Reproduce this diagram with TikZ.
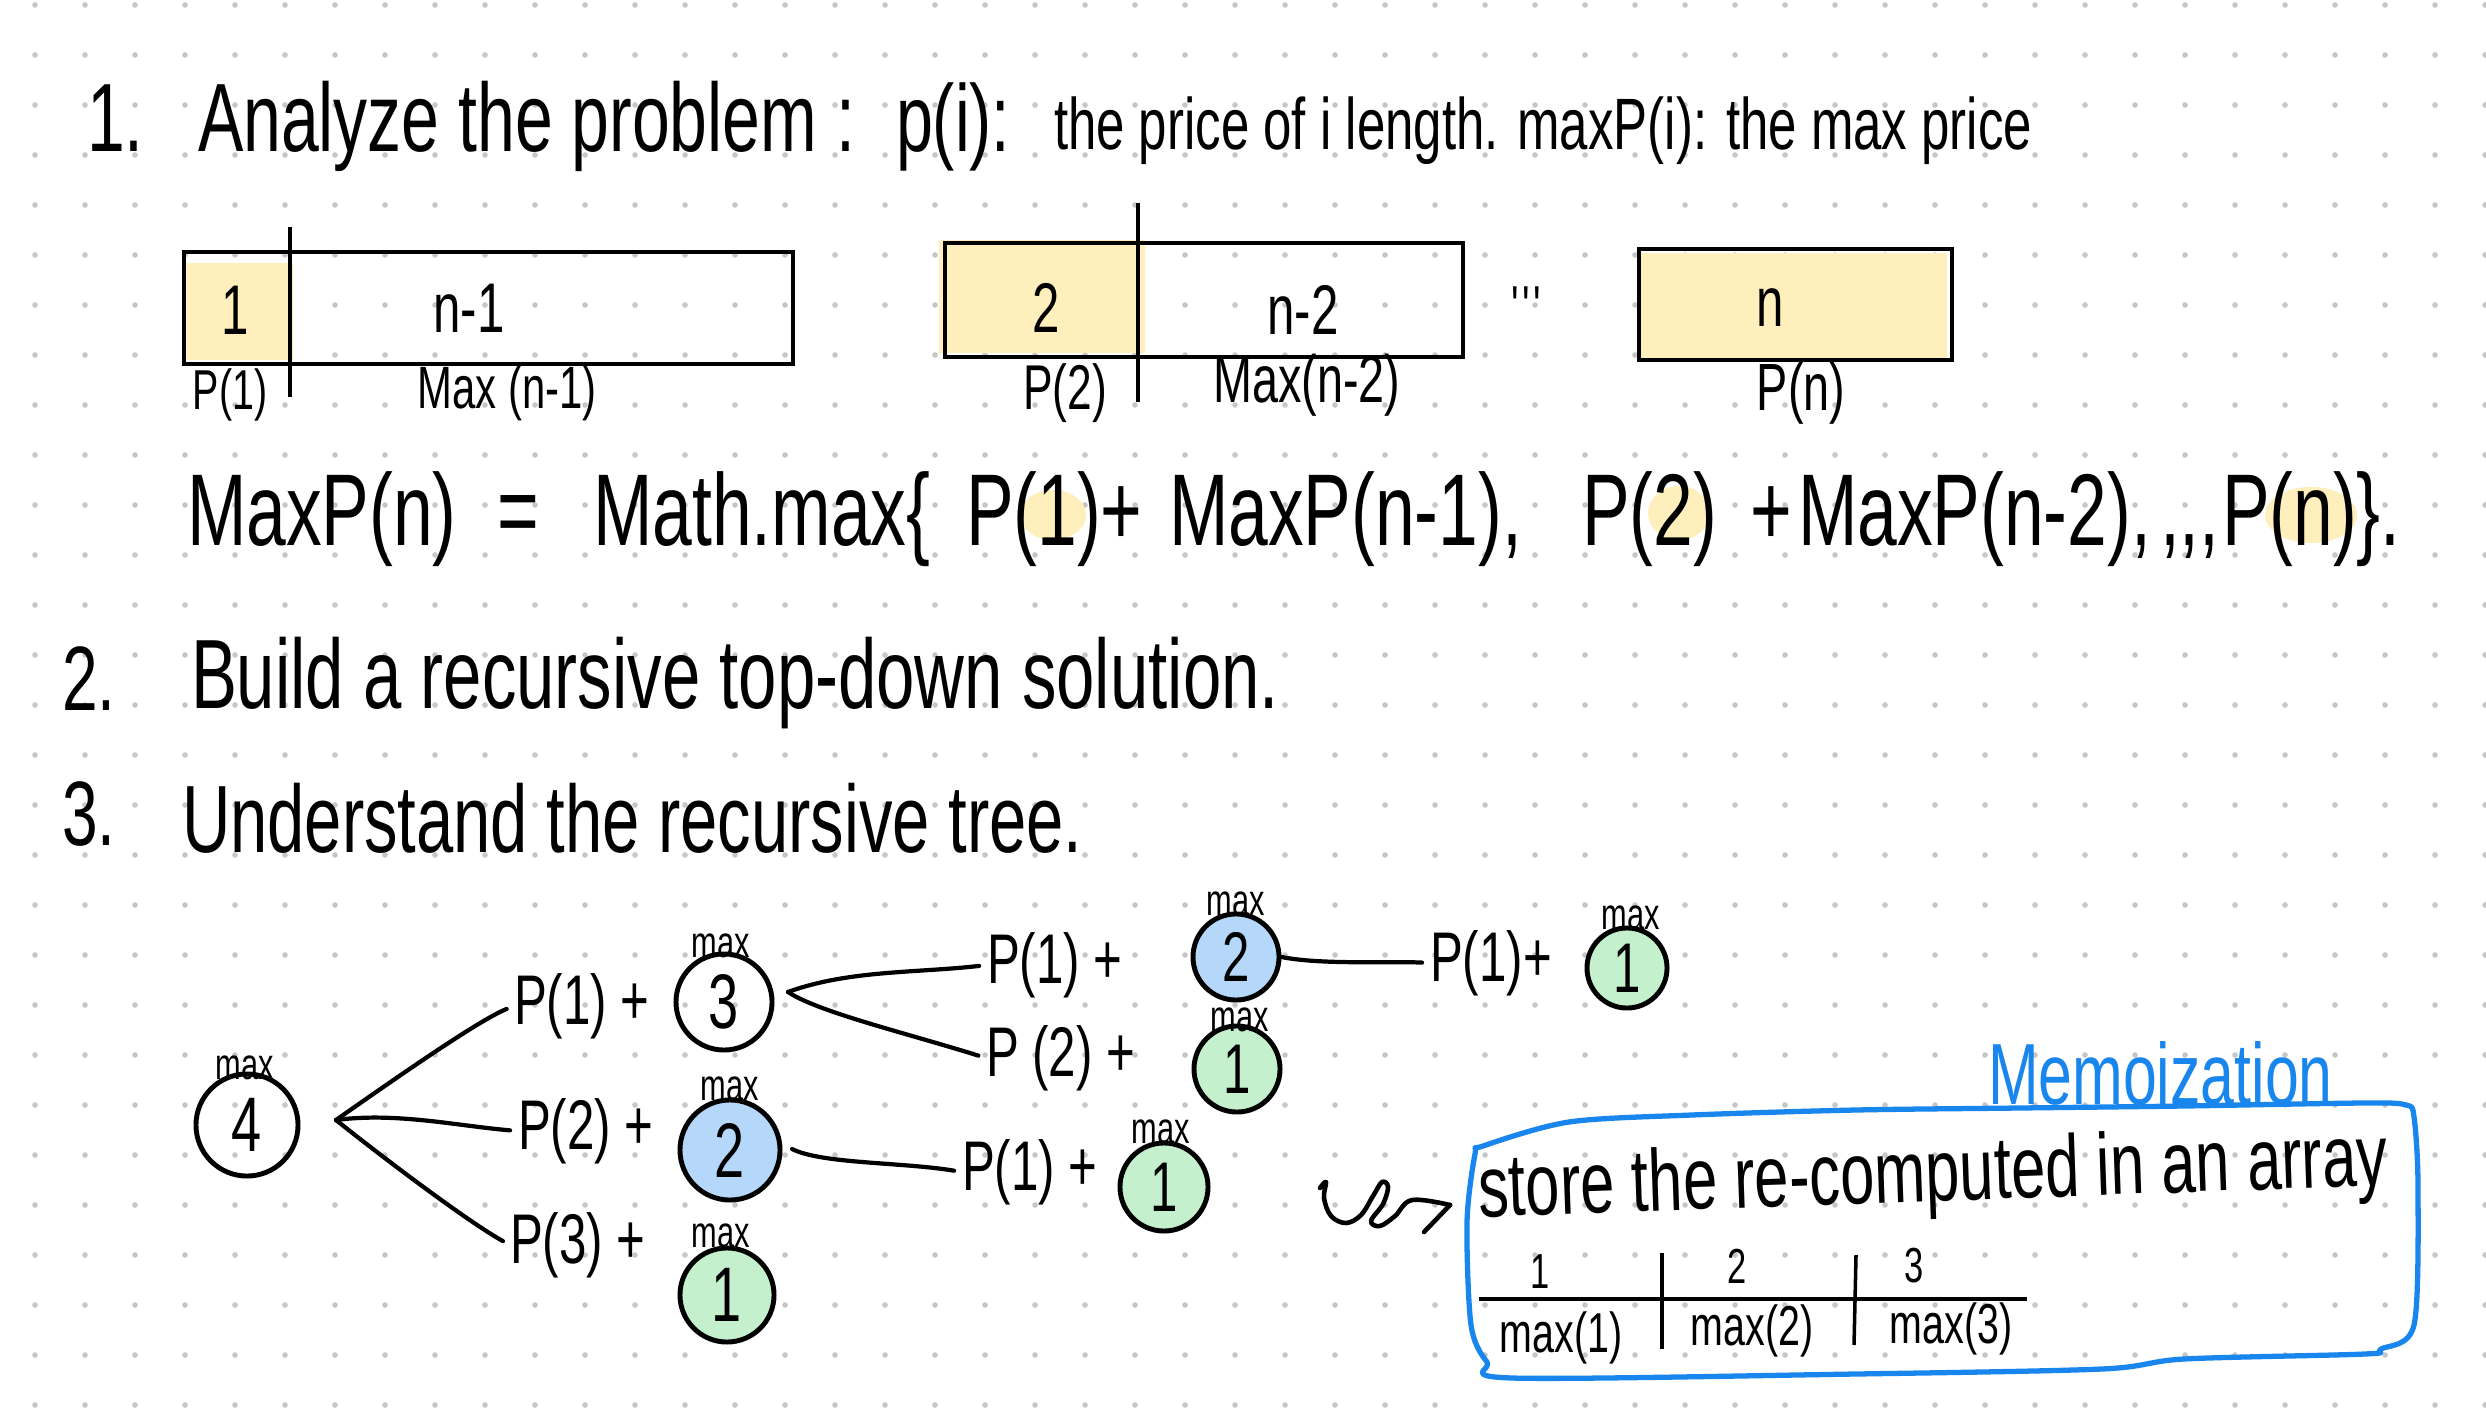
\documentclass[tikz,border=0pt]{standalone}
\usepackage{fontspec}
\setmainfont[FakeStretch=0.7]{Liberation Sans}
\newcommand\fsz[1]{\fontsize{#1}{#1}\selectfont}
\definecolor{hlY}{RGB}{254,239,188}
\definecolor{fillG}{RGB}{196,240,206}
\definecolor{fillB}{RGB}{181,216,250}
\definecolor{memoB}{RGB}{24,134,236}
\definecolor{dotc}{RGB}{198,198,198}
\tikzset{
  txt/.style={inner sep=0pt, outer sep=0pt, anchor=base west},
  lbl/.style={inner sep=0pt, outer sep=0pt, anchor=center},
  circ/.style={circle, draw, line width=1.4pt, inner sep=0pt, font=\fsz{22}},
  smallcirc/.style={circ, font=\fsz{20}},
  maxl/.style={inner sep=0pt, anchor=center, font=\fsz{12.5}},
  edge/.style={line width=1.2pt, line cap=round, shorten >=0.08cm},
  tl/.style={inner sep=0pt, outer sep=0pt, anchor=west, font=\fsz{20}},
  barbox/.style={draw, line width=1.1pt, inner sep=0pt},
}
\begin{document}
\begin{tikzpicture}[x=0.01cm, y=-0.01cm]
\fill[white] (0,0) rectangle (2486,1416);
\useasboundingbox (0,0) rectangle (2486,1416);
% dot grid
\foreach \i in {0,...,49}{\foreach \j in {0,...,28}{\fill[dotc] ({35+50*\i},{5+50*\j}) circle (0.028cm);}}

% ---- line 1
\node[txt, font=\fsz{27.6}] (num1) at (87,152) {1.};
\node[txt, font=\fsz{27.6}] (h1) at (198,152) {Analyze the problem :};
\node[txt, font=\fsz{27}] (pi) at (896,152) {p(i):};
\node[txt, font=\fsz{20.7}] (pidef) at (1054,150) {the price of i length. maxP(i): the max price};

% ---- bars
\fill[hlY] (184,263) rectangle (293,360);
\fill[hlY] (939,240) rectangle (1145,353);
\fill[hlY] (1639,253) rectangle (1947,358);
\node[barbox, minimum width=6.09cm, minimum height=1.12cm] (boxA) at (488.5,308) {};
\node[barbox, minimum width=5.18cm, minimum height=1.14cm] (boxB) at (1204,300) {};
\node[barbox, minimum width=3.13cm, minimum height=1.11cm] (boxC) at (1795.5,304.5) {};
\draw[line width=1pt] (290,227) -- (290,397);
\draw[line width=1pt] (1138,203) -- (1138,402);
\node[lbl, font=\fsz{20}] (bA1) at (235,310) {1};
\node[lbl, font=\fsz{20}] (bAn) at (469,308) {n-1};
\node[lbl, font=\fsz{20}] (bB2) at (1046,308) {2};
\node[lbl, font=\fsz{20}] (bBn) at (1303,310) {n-2};
\node[lbl, font=\fsz{16}] (bdots) at (1528,306) {\textquotesingle\textquotesingle\textquotesingle};
\node[lbl, font=\fsz{20}] (bCn) at (1770,308) {n};
\node[lbl, font=\fsz{16}] (lA1) at (230,395) {P(1)};
\node[lbl, font=\fsz{17}] (lA2) at (507,393) {Max (n-1)};
\node[lbl, font=\fsz{18}] (lB1) at (1065,393) {P(2)};
\node[lbl, font=\fsz{19}] (lB2) at (1307,385) {Max(n-2)};
\node[lbl, font=\fsz{19}] (lC) at (1801,393) {P(n)};

% ---- formula
\fill[hlY] (1053,515) ellipse [x radius=0.33cm, y radius=0.25cm];
\fill[hlY] (1679,513) ellipse [x radius=0.31cm, y radius=0.27cm];
\fill[hlY] (2311,515) ellipse [x radius=0.46cm, y radius=0.28cm];
\node[txt, font=\fsz{29}] (f1) at (187,545) {MaxP(n)};
\node[txt, font=\fsz{29}] (f2) at (497,545) {=};
\node[txt, font=\fsz{29}] (f3) at (593,545) {Math.max\{};
\node[txt, font=\fsz{29}] (f4) at (966,545) {P(1)+};
\node[txt, font=\fsz{29}] (f5) at (1169,545) {MaxP(n-1),};
\node[txt, font=\fsz{29}] (f6) at (1582,545) {P(2)};
\node[txt, font=\fsz{29}] (f7) at (1750,545) {+};
\node[txt, font=\fsz{29}] (f8) at (1798,545) {MaxP(n-2),};
\node[txt, font=\fsz{29}] (f9) at (2160,545) {{,}{,}{,}};
\node[txt, font=\fsz{29}] (f10) at (2222,545) {P(n)\}.};

% ---- lines 2 and 3
\node[txt, font=\fsz{26}] (num2) at (62,710) {2.};
\node[txt, font=\fsz{28}] (h2) at (191,708) {Build a recursive top-down solution.};
\node[txt, font=\fsz{26}] (num3) at (62,845) {3.};
\node[txt, font=\fsz{27.2}] (h3) at (182,852) {Understand the recursive tree.};

% ---- tree
\node[circ, minimum size=1.02cm] (c4) at (247,1125) {4};
\node[circ, minimum size=0.96cm] (c3) at (724,1002) {3};
\node[circ, fill=fillB, minimum size=1.00cm] (c2a) at (730,1150) {2};
\node[circ, fill=fillG, minimum size=0.94cm] (c1a) at (727,1295) {1};
\node[smallcirc, fill=fillB, minimum size=0.86cm] (c2b) at (1236,957) {2};
\node[smallcirc, fill=fillG, minimum size=0.86cm] (c1b) at (1237,1069) {1};
\node[smallcirc, fill=fillG, minimum size=0.88cm] (c1c) at (1164,1187) {1};
\node[smallcirc, fill=fillG, minimum size=0.80cm] (c1d) at (1627,968) {1};
\node[maxl] (m4) at (245,1068) {max};
\node[maxl] (m3) at (721,946) {max};
\node[maxl] (m2a) at (730,1089) {max};
\node[maxl] (m1a) at (721,1236) {max};
\node[maxl] (m2b) at (1236,904) {max};
\node[maxl] (m1b) at (1240,1020) {max};
\node[maxl] (m1c) at (1161,1132) {max};
\node[maxl] (m1d) at (1631,918) {max};

\node[tl] (t1) at (514,1006) {P(1) +};
\node[tl] (t2) at (518,1131) {P(2) +};
\node[tl] (t3) at (510,1245) {P(3) +};
\node[tl] (t4) at (987,965) {P(1) +};
\node[tl] (t5) at (986,1058) {P (2) +};
\node[tl] (t6) at (962,1172) {P(1) +};
\node[tl] (t7) at (1430,963) {P(1)+};

\coordinate (k4) at (336,1120);
\coordinate (k3) at (788,992);
\coordinate (k2) at (792,1149);
\draw[edge] (k4) .. controls +(60,-42) and +(-35,14) .. (t1.west);
\draw[edge] (k4) .. controls +(60,-8) and +(-60,-5) .. (t2.west);
\draw[edge] (k4) .. controls +(50,40) and +(-40,-22) .. (t3.west);
\draw[edge] (k3) .. controls +(60,-22) and +(-70,8) .. (t4.west);
\draw[edge] (k3) .. controls +(30,20) and +(-80,-25) .. (t5.west);
\draw[edge] (k2) .. controls +(30,15) and +(-60,-10) .. (t6.west);
\draw[edge] (c2b.east) .. controls +(40,8) and +(-40,-2) .. (t7.west);

% ---- memoization
\node[txt, font=\fsz{24.7}, text=memoB] (memo) at (1988,1104) {Memoization};
\draw[memoB, line width=1.5pt, line join=round] plot[smooth cycle, tension=0.5] coordinates {
 (1483,1146) (1569,1122) (1692,1115) (1856,1110) (2020,1108) (2184,1106) (2365,1103) (2406,1105)
 (2414,1117) (2418,1188) (2414,1325) (2381,1349) (2365,1354) (2184,1359) (2102,1369) (1856,1374)
 (1512,1378) (1487,1362) (1471,1325) (1467,1222) (1475,1154)};
\node[txt, font=\fsz{25}, rotate=2] (store) at (1479,1217) {store the re-computed in an array};
\draw[line width=1.1pt] (1479,1299) -- (2027,1299);
\draw[line width=1pt] (1662,1253) -- (1662,1349);
\draw[line width=1pt] (1856,1255) -- (1854,1345);
\node[lbl, font=\fsz{14}] (a1) at (1540,1272) {1};
\node[lbl, font=\fsz{14}] (a2) at (1737,1266) {2};
\node[lbl, font=\fsz{14}] (a3) at (1914,1266) {3};
\node[lbl, font=\fsz{16}] (am1) at (1561,1338) {max(1)};
\node[lbl, font=\fsz{16}] (am2) at (1752,1331) {max(2)};
\node[lbl, font=\fsz{16}] (am3) at (1951,1329) {max(3)};

% ---- squiggle arrow
\draw[line width=1.3pt, line cap=round, line join=round] plot[smooth, tension=0.6] coordinates {
 (1320,1188) (1326,1182) (1324,1198) (1331,1216) (1346,1223) (1361,1215) (1373,1196) (1382,1182)
 (1388,1187) (1383,1204) (1371,1221) (1380,1226) (1395,1216) (1412,1200) (1450,1205)};
\draw[line width=1.3pt, line cap=round] (1450,1205) -- (1424,1232);
\end{tikzpicture}
\end{document}
